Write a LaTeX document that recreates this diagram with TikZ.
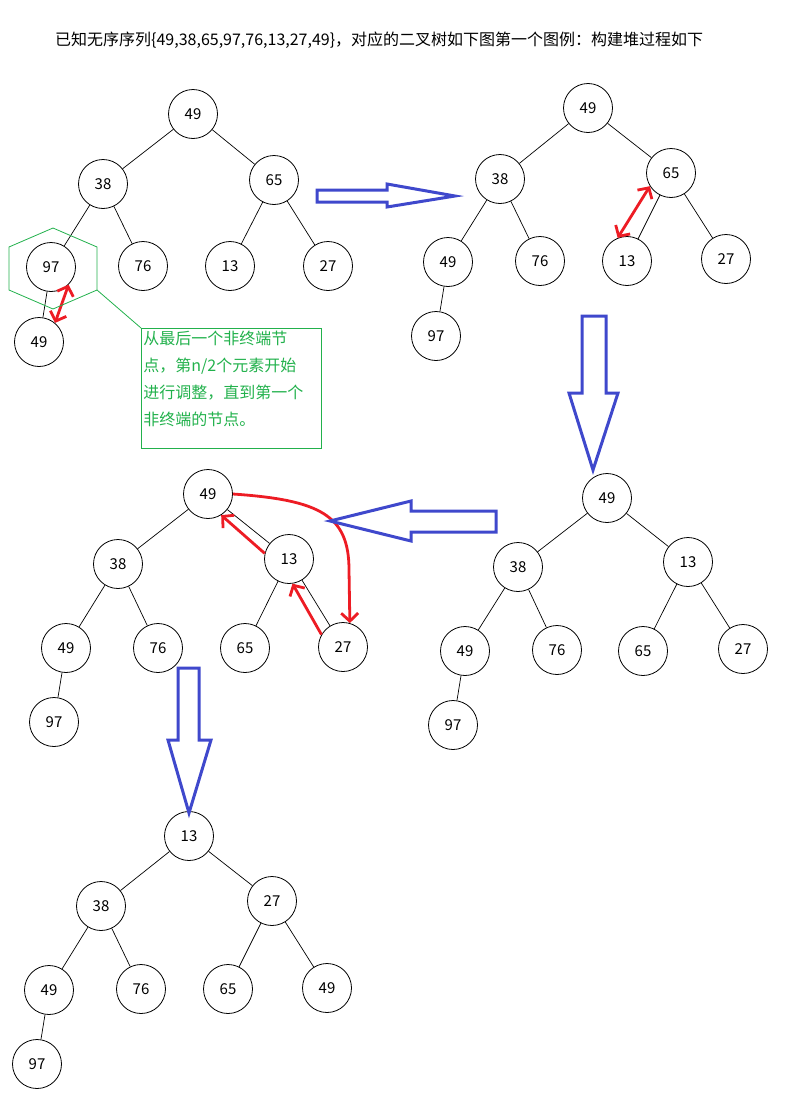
\documentclass[tikz,border=0pt]{standalone}
\usepackage{fontspec}
\setmainfont{Noto Sans CJK SC}
\usetikzlibrary{arrows.meta}

\definecolor{paintblue}{RGB}{63,72,204}
\definecolor{paintred}{RGB}{237,28,36}
\definecolor{paintgreen}{RGB}{34,177,76}

\begin{document}
\begin{tikzpicture}[
    x=1pt, y=-1pt, % one unit = one pixel of the sketch, y grows downward
    % Tree node style: adjust minimum size for circle diameter, font size
    nd/.style={draw,circle,line width=0.8pt,minimum size=49pt,inner sep=0pt,font=\fontsize{15}{15}\selectfont},
    % Tree edge style
    edge/.style={line width=0.7pt},
    % Swap arrows (red): adjust barb length/width
    swap/.style={draw=paintred,line width=2.8pt,-{Straight Barb[length=8pt,width=17pt]}},
    % Step arrows (blue outline)
    blk/.style={draw=paintblue,line width=3pt,line join=miter},
    % Green remark: box, hexagon, guide line
    grn/.style={draw=paintgreen,line width=0.8pt}
]
\useasboundingbox (0,0) rectangle (793,1100);

% ==============================
% TITLE
% ==============================
\node[anchor=west,inner sep=0pt,font=\fontsize{16}{16}\selectfont] (title) at (55,40)
    {已知无序序列\{49,38,65,97,76,13,27,49\}，对应的二叉树如下图第一个图例：构建堆过程如下};

% ==============================
% TREE A (top left): initial sequence
% ==============================
\node[nd] (A1) at (193,114) {49};
\node[nd] (A2) at (103,184) {38};
\node[nd] (A3) at (274,180) {65};
\node[nd] (A4) at (51,267)  {97};
\node[nd] (A5) at (143,266) {76};
\node[nd] (A6) at (230,266) {13};
\node[nd] (A7) at (328,266) {27};
\node[nd] (A8) at (39,342)  {49};

\draw[edge] (A1) -- (A2);
\draw[edge] (A1) -- (A3);
\draw[edge] (A2) -- (A4);
\draw[edge] (A2) -- (A5);
\draw[edge] (A3) -- (A6);
\draw[edge] (A3) -- (A7);
\draw[edge] (A4) -- (A8);

% swap 97 <-> 49
\draw[swap,{Straight Barb[length=8pt,width=17pt]}-{Straight Barb[length=8pt,width=17pt]}] (A4.-45) -- (A8.50);

% HEXAGON round the last non-leaf node + remark box
\draw[grn] (9,247) -- (53,228) -- (97,247) -- (97,290) coordinate (hexBR) -- (53,309) -- (9,290) -- cycle;
\node[grn,anchor=north west,align=left,text=paintgreen,inner xsep=2pt,inner ysep=3pt,
      text width=176pt,text height=13pt,text depth=101pt,font=\fontsize{16}{27}\selectfont]
    (remark) at (141,328)
    {从最后一个非终端节\\点，第n/2个元素开始\\进行调整，直到第一个\\非终端的节点。};
\draw[grn] (hexBR) -- (remark.north west);

% ==============================
% TREE B (top right): after 97 <-> 49
% ==============================
\node[nd] (B1) at (588,108) {49};
\node[nd] (B2) at (500,179) {38};
\node[nd] (B3) at (671,173) {65};
\node[nd] (B4) at (448,262) {49};
\node[nd] (B5) at (540,261) {76};
\node[nd] (B6) at (627,261) {13};
\node[nd] (B7) at (726,259) {27};
\node[nd] (B8) at (436,336) {97};

\draw[edge] (B1) -- (B2);
\draw[edge] (B1) -- (B3);
\draw[edge] (B2) -- (B4);
\draw[edge] (B2) -- (B5);
\draw[edge] (B3) -- (B6);
\draw[edge] (B3) -- (B7);
\draw[edge] (B4) -- (B8);

% swap 65 <-> 13
\draw[swap,{Straight Barb[length=8pt,width=17pt]}-{Straight Barb[length=8pt,width=17pt]}] (B6.112) -- (B3.212);

% ==============================
% TREE C (middle right): after 65 <-> 13
% ==============================
\node[nd] (C1) at (607,498) {49};
\node[nd] (C2) at (518,567) {38};
\node[nd] (C3) at (688,562) {13};
\node[nd] (C4) at (465,651) {49};
\node[nd] (C5) at (557,650) {76};
\node[nd] (C6) at (643,651) {65};
\node[nd] (C7) at (743,649) {27};
\node[nd] (C8) at (453,725) {97};

\draw[edge] (C1) -- (C2);
\draw[edge] (C1) -- (C3);
\draw[edge] (C2) -- (C4);
\draw[edge] (C2) -- (C5);
\draw[edge] (C3) -- (C6);
\draw[edge] (C3) -- (C7);
\draw[edge] (C4) -- (C8);

% ==============================
% TREE D (middle left): sift 49 down
% ==============================
\node[nd] (D1) at (208,494) {49};
\node[nd] (D2) at (118,564) {38};
\node[nd] (D3) at (289,559) {13};
\node[nd] (D4) at (66,648)  {49};
\node[nd] (D5) at (158,648) {76};
\node[nd] (D6) at (245,648) {65};
\node[nd] (D7) at (343,647) {27};
\node[nd] (D8) at (54,722)  {97};

\draw[edge] (D1) -- (D2);
\draw[edge] (D1) -- (D3);
\draw[edge] (D2) -- (D4);
\draw[edge] (D2) -- (D5);
\draw[edge] (D3) -- (D6);
\draw[edge] (D3) -- (D7);
\draw[edge] (D4) -- (D8);

% moves: 13 up, 27 up, 49 down to the leaf
\draw[swap] (D3.167) -- (D1.-58);
\draw[swap] (D7.150) -- (D3.-82);
\draw[swap] (D1.east) .. controls (320,500) and (349,515) .. (349,570) -- (D7.74);

% ==============================
% TREE E (bottom): finished heap
% ==============================
\node[nd] (E1) at (189,836)  {13};
\node[nd] (E2) at (101,906)  {38};
\node[nd] (E3) at (272,901)  {27};
\node[nd] (E4) at (49,990)   {49};
\node[nd] (E5) at (141,989)  {76};
\node[nd] (E6) at (228,989)  {65};
\node[nd] (E7) at (327,988)  {49};
\node[nd] (E8) at (37,1064)  {97};

\draw[edge] (E1) -- (E2);
\draw[edge] (E1) -- (E3);
\draw[edge] (E2) -- (E4);
\draw[edge] (E2) -- (E5);
\draw[edge] (E3) -- (E6);
\draw[edge] (E3) -- (E7);
\draw[edge] (E4) -- (E8);

% ==============================
% STEP ARROWS (blue outlines)
% Adjust: shaft ends, head base, tip
% ==============================
% A -> B
\draw[blk] (317,190) -- (387,190) -- (387,184) -- (455,196) -- (387,207) -- (387,202) -- (317,202) -- cycle;
% B -> C
\draw[blk] (582,316) -- (606,316) -- (606,393) -- (618,393) -- (593,470) -- (569,393) -- (582,393) -- cycle;
% C -> D
\draw[blk] (496,511) -- (411,511) -- (411,501) -- (330,521) -- (411,541) -- (411,532) -- (496,532) -- cycle;
% D -> E
\draw[blk] (178,668) -- (199,668) -- (199,740) -- (211,740) -- (189,813) -- (168,740) -- (178,740) -- cycle;
\end{tikzpicture}
\end{document}
